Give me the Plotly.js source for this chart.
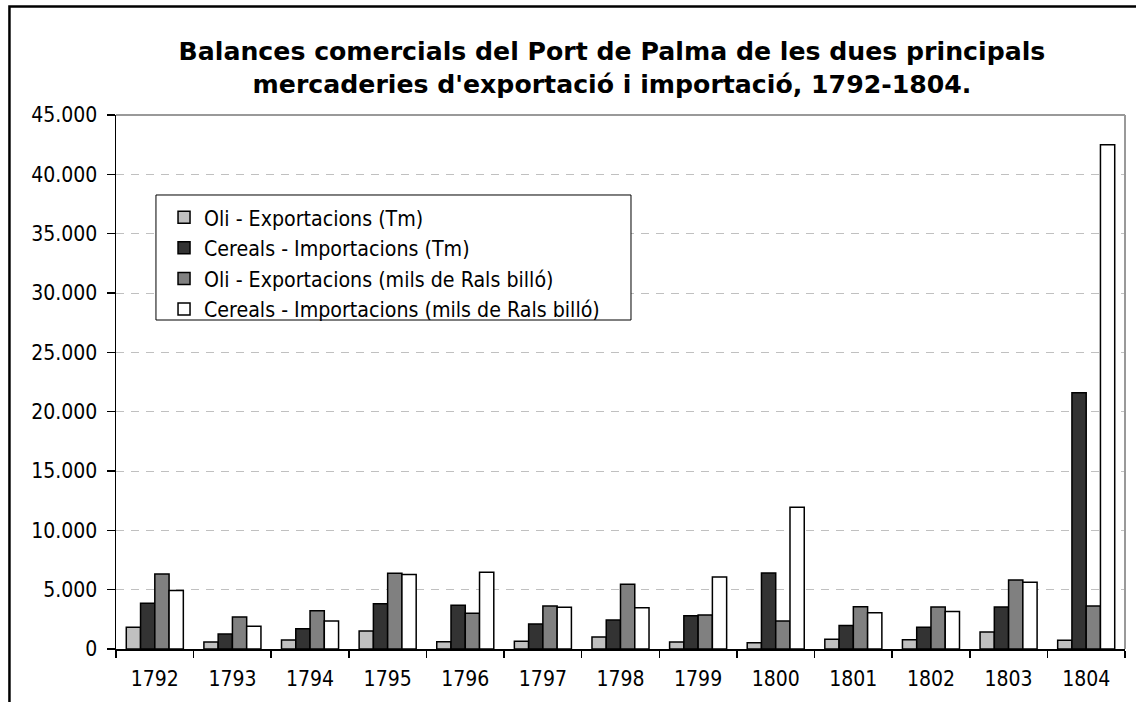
<!DOCTYPE html>
<html>
<head>
<meta charset="utf-8">
<script src="https://cdn.plot.ly/plotly-3.0.1.min.js"></script>
<style>html,body{margin:0;padding:0;background:#fff;}#chart{width:1136px;height:702px;}</style>
</head>
<body>
<div id="chart"></div>
<script>
const years = ['1792','1793','1794','1795','1796','1797','1798','1799','1800','1801','1802','1803','1804'];
const oliTm = [1830, 590, 760, 1520, 620, 650, 1010, 590, 530, 820, 790, 1430, 730];
const cerealsTm = [3850, 1260, 1710, 3820, 3680, 2110, 2440, 2810, 6400, 1970, 1830, 3540, 21600];
const oliRals = [6320, 2700, 3230, 6380, 3010, 3620, 5450, 2870, 2360, 3570, 3540, 5820, 3620];
const cerealsRals = [4920, 1910, 2360, 6270, 6460, 3510, 3480, 6070, 11940, 3060, 3170, 5620, 42500];
const seriesNames = ['Oli - Exportacions (Tm)', 'Cereals - Importacions (Tm)', 'Oli - Exportacions (mils de Rals billó)', 'Cereals - Importacions (mils de Rals billó)'];
const seriesColors = ['#C0C0C0', '#333333', '#808080', '#FFFFFF'];
const seriesValues = [oliTm, cerealsTm, oliRals, cerealsRals];
const titleText = 'Balances comercials del Port de Palma de les dues principals<br>mercaderies d\'exportació i importació, 1792-1804.';

const FONT = 'DejaVu Sans Condensed, DejaVu Sans, sans-serif';
const TITLE_FONT = 'DejaVu Sans, sans-serif';

const traces = seriesValues.map((vals, i) => ({
  type: 'bar',
  name: seriesNames[i],
  x: years,
  y: vals,
  marker: {color: seriesColors[i], line: {color: '#000000', width: 1.5}},
  hoverinfo: 'x+y+name'
}));

const layout = {
  width: 1136,
  height: 702,
  margin: {l: 116, r: 11, t: 115, b: 53},
  paper_bgcolor: '#FFFFFF',
  plot_bgcolor: '#FFFFFF',
  separators: ',.',
  font: {family: FONT, size: 21, color: '#000000'},
  barmode: 'group',
  bargap: 0.265,
  bargroupgap: 0,
  title: {
    text: titleText,
    font: {family: TITLE_FONT, size: 25.2, color: '#000000', weight: 'bold'},
    xref: 'container', x: 0.5387, xanchor: 'center',
    yref: 'container', y: 0.9145, yanchor: 'middle'
  },
  xaxis: {
    type: 'category',
    tickson: 'boundaries',
    ticks: 'outside', ticklen: 7, tickwidth: 1.5, tickcolor: '#000000',
    showline: true, linecolor: '#000000', linewidth: 1.5,
    showgrid: false, zeroline: false,
    ticklabelstandoff: 10,
    tickfont: {family: FONT, size: 21, color: '#000000'}
  },
  yaxis: {
    range: [0, 45000],
    dtick: 5000, tick0: 0,
    tickformat: ',d',
    ticks: 'outside', ticklen: 8, tickwidth: 1.5, tickcolor: '#000000',
    showline: true, linecolor: '#000000', linewidth: 1.5,
    showgrid: true, gridcolor: '#C0C0C0', gridwidth: 1, griddash: '8px,7px',
    zeroline: false,
    ticklabelstandoff: 5,
    tickfont: {family: FONT, size: 21, color: '#000000'}
  },
  legend: {
    x: 0.0476, xanchor: 'left',
    y: 0.8464, yanchor: 'top',
    bgcolor: 'rgba(0,0,0,0)', bordercolor: '#000000', borderwidth: 0,
    font: {family: FONT, size: 21.2, color: '#000000'},
    traceorder: 'normal'
  },
  shapes: [
    {type: 'line', xref: 'paper', yref: 'paper', x0: 0, x1: 1, y0: 1, y1: 1, line: {color: '#999999', width: 2}},
    {type: 'line', xref: 'paper', yref: 'paper', x0: 1, x1: 1, y0: 0, y1: 1, line: {color: '#999999', width: 2}},
    {type: 'rect', xref: 'paper', yref: 'paper', x0: 0.0396, x1: 0.5104, y0: 0.6161, y1: 0.8502, line: {color: '#000000', width: 1}, fillcolor: '#FFFFFF', layer: 'above'},
    {type: 'rect', xref: 'paper', yref: 'paper', x0: -0.1056, x1: 1.5, y0: -0.5, y1: 1.2032, line: {color: '#000000', width: 2.5}, fillcolor: 'rgba(0,0,0,0)'}
  ],
  showlegend: true
};

Plotly.newPlot('chart', traces, layout, {displayModeBar: false, staticPlot: true});
</script>
</body>
</html>
